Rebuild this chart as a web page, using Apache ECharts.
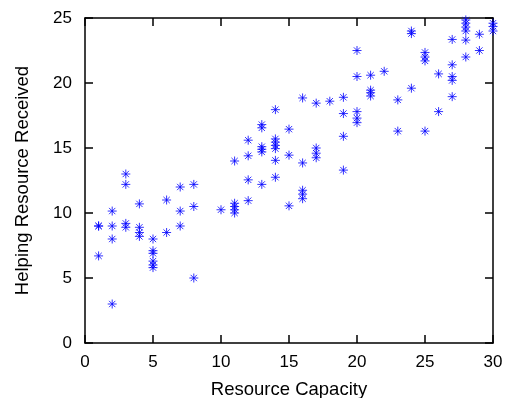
<!DOCTYPE html>
<html>
<head>
<meta charset="utf-8">
<script src="https://cdn.jsdelivr.net/npm/echarts@6/dist/echarts.min.js"></script>
<style>
  html, body { margin: 0; padding: 0; background: #fff; }
  #chart { width: 506px; height: 398px; }
</style>
</head>
<body>
<div id="chart"></div>
<script>
// capacity (x) and helping resource received (y)
var capacity = [
  1, 1, 1,
  2, 2, 2, 2,
  3, 3, 3, 3,
  4, 4, 4, 4,
  5, 5, 5, 5, 5, 5,
  6, 6,
  7, 7, 7,
  8, 8, 8,
  10,
  11, 11, 11, 11, 11,
  12, 12, 12, 12,
  13, 13, 13, 13, 13, 13,
  14, 14, 14, 14, 14, 14, 14,
  15, 15, 15,
  16, 16, 16, 16, 16,
  17, 17, 17, 17,
  18,
  19, 19, 19, 19,
  20, 20, 20, 20, 20,
  21, 21, 21, 21,
  22,
  23, 23,
  24, 24, 24,
  25, 25, 25, 25,
  26, 26,
  27, 27, 27, 27, 27,
  28, 28, 28, 28, 28, 28,
  29, 29,
  30, 30, 30
];
var received = [
  9.0, 9.0, 6.7,
  10.15, 9.0, 8.0, 3.0,
  13.0, 12.2, 9.2, 8.9,
  10.7, 8.9, 8.5, 8.2,
  8.0, 7.1, 6.9, 6.3, 6.0, 5.8,
  11.0, 8.5,
  12.0, 10.15, 9.0,
  12.2, 10.5, 5.0,
  10.25,
  14.0, 10.75, 10.5, 10.25, 10.0,
  15.6, 14.4, 12.55, 10.95,
  16.8, 16.55, 15.1, 14.9, 14.7, 12.2,
  17.95, 15.7, 15.45, 15.2, 14.95, 14.05, 12.75,
  16.45, 14.45, 10.55,
  18.85, 13.85, 11.75, 11.45, 11.1,
  18.45, 15.0, 14.6, 14.25,
  18.6,
  18.9, 17.65, 15.9, 13.3,
  22.5, 20.5, 17.8, 17.3, 16.95,
  20.6, 19.45, 19.25, 19.0,
  20.9,
  18.7, 16.3,
  24.0, 23.8, 19.6,
  22.35, 22.0, 21.7, 16.3,
  20.7, 17.8,
  23.35, 21.4, 20.5, 20.2, 18.95,
  24.85, 24.6, 24.3, 24.0, 23.3, 22.0,
  23.75, 22.5,
  24.6, 24.35, 24.0
];

var points = [];
for (var i = 0; i < capacity.length; i++) {
  points.push([capacity[i], received[i]]);
}

var font = '"Liberation Sans", Arial, Helvetica, sans-serif';
var star = 'path://M5,0L5,10M0,5L10,5M1.5,1.5L8.5,8.5M8.5,1.5L1.5,8.5';

var axisLine = { show: true, onZero: false, lineStyle: { color: '#000', width: 1.5 } };
var tick = { show: true, inside: true, length: 8, lineStyle: { color: '#000', width: 1.5 } };

var chart = echarts.init(document.getElementById('chart'), null, { renderer: 'canvas' });
chart.setOption({
  animation: false,
  backgroundColor: '#fff',
  grid: { left: 85, right: 13, top: 18, bottom: 55, containLabel: false, outerBoundsMode: 'none' },
  xAxis: [{
    type: 'value',
    min: 0, max: 30, interval: 5,
    name: 'Resource Capacity',
    nameLocation: 'middle',
    nameGap: 37,
    nameTextStyle: { fontFamily: font, fontSize: 18.5, color: '#000' },
    axisLine: axisLine,
    axisTick: tick,
    axisLabel: { fontFamily: font, fontSize: 17, color: '#000', margin: 11 },
    splitLine: { show: false }
  }, {
    type: 'value',
    position: 'top',
    min: 0, max: 30, interval: 5,
    axisLine: axisLine,
    axisTick: tick,
    axisLabel: { show: false },
    splitLine: { show: false }
  }],
  yAxis: [{
    type: 'value',
    min: 0, max: 25, interval: 5,
    name: 'Helping Resource Received',
    nameLocation: 'middle',
    nameGap: 53,
    nameTextStyle: { fontFamily: font, fontSize: 18.5, color: '#000' },
    axisLine: axisLine,
    axisTick: tick,
    axisLabel: { fontFamily: font, fontSize: 17, color: '#000', margin: 13 },
    splitLine: { show: false }
  }, {
    type: 'value',
    position: 'right',
    min: 0, max: 25, interval: 5,
    axisLine: axisLine,
    axisTick: tick,
    axisLabel: { show: false },
    splitLine: { show: false }
  }],
  series: [{
    type: 'scatter',
    xAxisIndex: 0,
    yAxisIndex: 0,
    symbol: star,
    symbolSize: 9,
    clip: false,
    itemStyle: { color: 'rgba(0,0,0,0)', borderColor: '#0000ff', borderWidth: 1 },
    data: points
  }]
});
</script>
</body>
</html>
